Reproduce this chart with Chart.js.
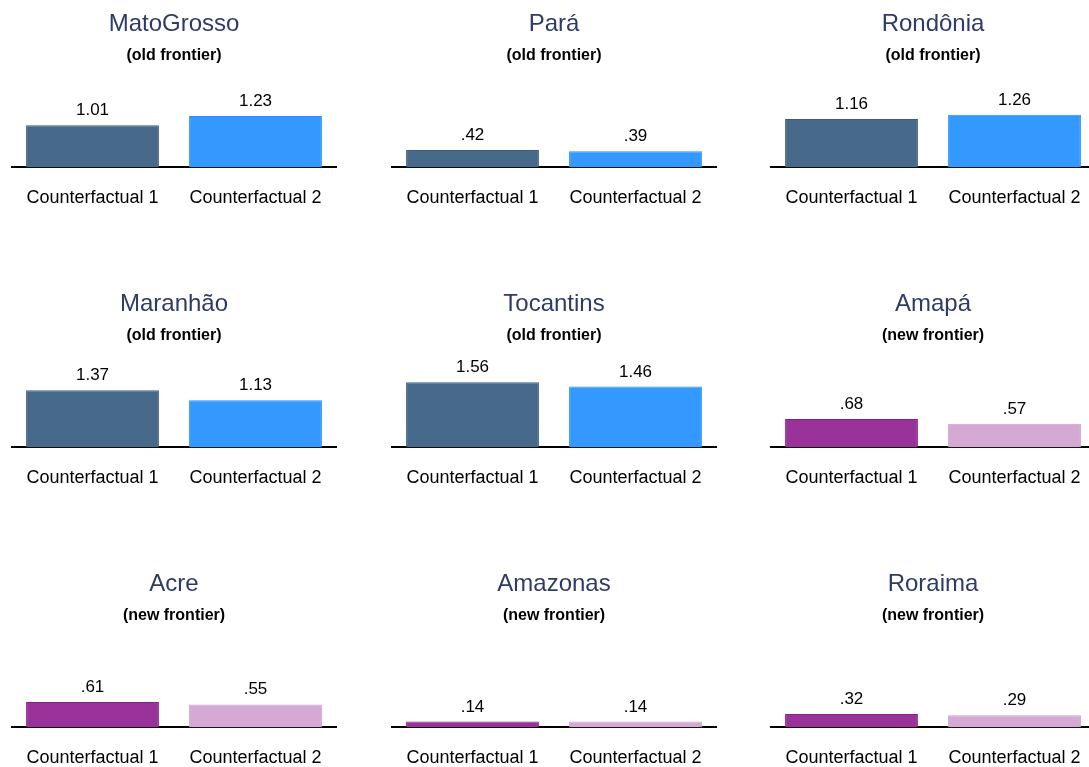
<!DOCTYPE html>
<html>
<head>
<meta charset="utf-8">
<script src="https://cdn.jsdelivr.net/npm/chart.js@4/dist/chart.umd.min.js"></script>
<style>
  html, body { margin: 0; padding: 0; background: #ffffff; overflow: hidden; }
  body { width: 1089px; height: 767px; position: relative; }
  .panel { position: absolute; width: 326px; height: 229px; }
</style>
</head>
<body>
<script>
// States shown in the 3x3 grid, read row by row
const states = ['MatoGrosso', 'Pará', 'Rondônia', 'Maranhão', 'Tocantins', 'Amapá', 'Acre', 'Amazonas', 'Roraima'];
const frontier = ['old', 'old', 'old', 'old', 'old', 'new', 'new', 'new', 'new'];
const scenarios = ['Counterfactual 1', 'Counterfactual 2'];
const counterfactual1 = [1.01, 0.42, 1.16, 1.37, 1.56, 0.68, 0.61, 0.14, 0.32];
const counterfactual2 = [1.23, 0.39, 1.26, 1.13, 1.46, 0.57, 0.55, 0.14, 0.29];

const palette = {
  old: { fill: ['#476A8A', '#3399FF'], edge: ['#3A5C7C', '#2B8EF5'] },
  new: { fill: ['#993399', '#D4A9D4'], edge: ['#8A1E8A', '#CDA0CD'] }
};

const FONT = "'Liberation Sans', Arial, sans-serif";

// Prints each bar's value above it, dropping the leading zero (".42")
const valueLabels = {
  id: 'valueLabels',
  afterDatasetsDraw(chart) {
    const ctx = chart.ctx;
    const ds = chart.data.datasets[0];
    const meta = chart.getDatasetMeta(0);
    ctx.save();
    ctx.font = '17px ' + FONT;
    ctx.fillStyle = '#000000';
    ctx.textAlign = 'center';
    ctx.textBaseline = 'alphabetic';
    meta.data.forEach((bar, i) => {
      const txt = ds.data[i].toFixed(2).replace(/^0/, '');
      ctx.fillText(txt, bar.x, bar.y - 10);
    });
    ctx.restore();
  }
};

states.forEach((state, i) => {
  const row = Math.floor(i / 3);
  const col = i % 3;
  const canvasWrap = document.createElement('div');
  canvasWrap.className = 'panel';
  canvasWrap.style.left = (11 + col * 379.5) + 'px';
  canvasWrap.style.top = (row * 280) + 'px';
  const canvas = document.createElement('canvas');
  canvasWrap.appendChild(canvas);
  document.body.appendChild(canvasWrap);

  const colors = palette[frontier[i]];
  new Chart(canvas, {
    type: 'bar',
    data: {
      labels: scenarios,
      datasets: [{
        data: [counterfactual1[i], counterfactual2[i]],
        backgroundColor: colors.fill,
        borderColor: colors.edge,
        borderWidth: 1,
        barPercentage: 0.815,
        categoryPercentage: 1.0
      }]
    },
    options: {
      responsive: true,
      maintainAspectRatio: false,
      animation: false,
      layout: { padding: 0 },
      plugins: {
        legend: { display: false },
        tooltip: { enabled: false },
        title: {
          display: true,
          text: state,
          color: '#2E3B66',
          font: { family: FONT, size: 24, weight: 'normal' },
          padding: { top: 9.5, bottom: 8 }
        },
        subtitle: {
          display: true,
          text: '(' + frontier[i] + ' frontier)',
          color: '#000000',
          font: { family: FONT, size: 16, weight: 'bold' },
          padding: { top: 0, bottom: 6 }
        }
      },
      scales: {
        x: {
          grid: { display: false, drawTicks: false },
          border: { display: true, color: '#000000', width: 2 },
          ticks: {
            color: '#000000',
            font: { family: FONT, size: 18 },
            padding: 20,
            maxRotation: 0,
            autoSkip: false
          },
          // let the axis line run the full panel width
          afterFit(scale) {
            scale.paddingLeft = 0;
            scale.paddingRight = 0;
          }
        },
        y: {
          display: false,
          min: 0,
          max: 2.3
        }
      }
    },
    plugins: [valueLabels]
  });
});
</script>
</body>
</html>
